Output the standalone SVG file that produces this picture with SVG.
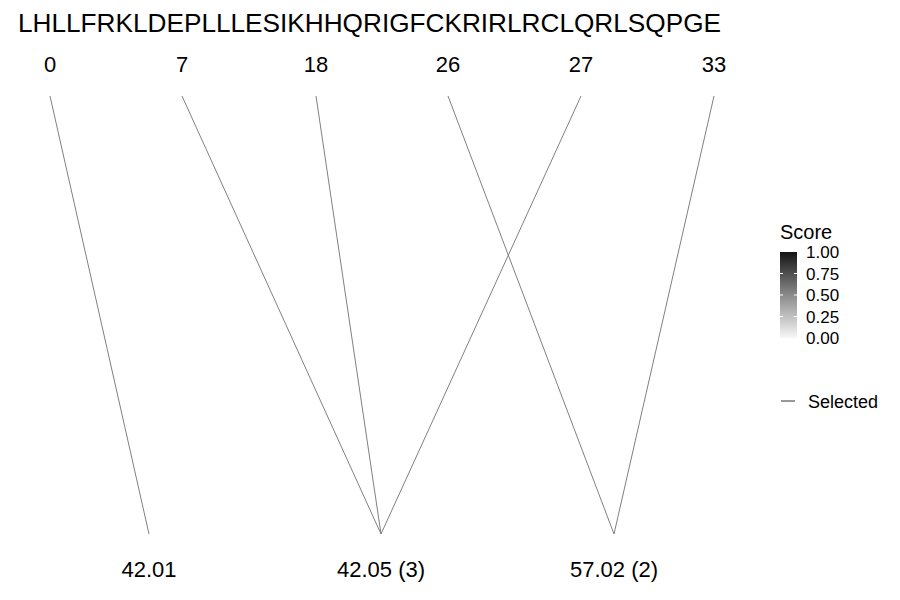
<svg xmlns="http://www.w3.org/2000/svg" width="900" height="600" viewBox="0 0 900 600">
<defs>
<style>
text{font-family:"Liberation Sans",Arial,sans-serif;fill:#000}
.seq{font-size:26px}
.top{font-size:22px;text-anchor:middle}
.bot{font-size:22px;text-anchor:middle}
.conn line{stroke:#808080;stroke-width:1}
.tick{font-size:17px}
.tk{stroke:#fff;stroke-width:1}
</style>
<linearGradient id="g" x1="0" y1="1" x2="0" y2="0">
<stop offset="0" stop-color="#f7f7f7"/>
<stop offset="0.5" stop-color="#8a8a8a"/>
<stop offset="1" stop-color="#141414"/>
</linearGradient>
</defs>
<rect width="900" height="600" fill="#fff"/>
<text class="seq" x="18" y="32" textLength="703" lengthAdjust="spacingAndGlyphs">LHLLFRKLDEPLLLESIKHHQRIGFCKRIRLRCLQRLSQPGE</text>
<g id="top-0"><text class="top" x="50" y="72">0</text></g>
<g id="top-7"><text class="top" x="182" y="72">7</text></g>
<g id="top-18"><text class="top" x="316" y="72">18</text></g>
<g id="top-26"><text class="top" x="448" y="72">26</text></g>
<g id="top-27"><text class="top" x="581" y="72">27</text></g>
<g id="top-33"><text class="top" x="714" y="72">33</text></g>
<g class="conn" id="connectors">
<line x1="50" y1="96" x2="149" y2="534"/>
<line x1="182" y1="96" x2="381" y2="534"/>
<line x1="316" y1="96" x2="381" y2="534"/>
<line x1="448" y1="96" x2="614" y2="534"/>
<line x1="581" y1="96" x2="381" y2="534"/>
<line x1="714" y1="96" x2="614" y2="534"/>
</g>
<g id="bot-1"><text class="bot" x="149" y="577">42.01</text></g>
<g id="bot-2"><text class="bot" x="381" y="577">42.05 (3)</text></g>
<g id="bot-3"><text class="bot" x="614" y="577">57.02 (2)</text></g>
<g id="legend">
<text x="780" y="239" style="font-size:20px">Score</text>
<rect x="780" y="252" width="17" height="86" fill="url(#g)"/>
<line class="tk" x1="780" y1="273.5" x2="783" y2="273.5"/><line class="tk" x1="794" y1="273.5" x2="797" y2="273.5"/>
<line class="tk" x1="780" y1="295" x2="783" y2="295"/><line class="tk" x1="794" y1="295" x2="797" y2="295"/>
<line class="tk" x1="780" y1="316.5" x2="783" y2="316.5"/><line class="tk" x1="794" y1="316.5" x2="797" y2="316.5"/>
<text class="tick" x="806" y="258">1.00</text>
<text class="tick" x="806" y="279.5">0.75</text>
<text class="tick" x="806" y="301">0.50</text>
<text class="tick" x="806" y="322.5">0.25</text>
<text class="tick" x="806" y="344">0.00</text>
<line x1="781" y1="401" x2="795" y2="401" stroke="#333" stroke-width="1"/>
<text x="808" y="408" style="font-size:18px">Selected</text>
</g>
</svg>
